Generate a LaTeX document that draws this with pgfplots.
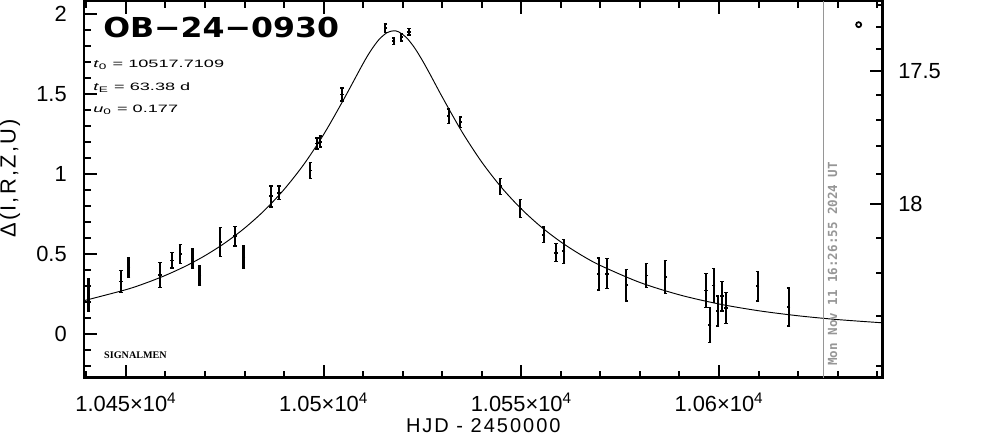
\documentclass[border=0pt]{standalone}
\usepackage{fontspec}
\setmainfont{Liberation Sans}
\newfontfamily\labfont[LetterSpace=10]{Liberation Sans}
\newfontfamily\titlefont{DejaVu Sans}
\newfontfamily\datefont{DejaVu Sans Mono}
\newfontfamily\smallserif{Liberation Serif}
\usepackage{pgfplots}
\usepackage{pgfplotstable}
\pgfplotsset{compat=1.18}
\definecolor{stampgray}{RGB}{150,150,150}

% observed points: HJD-2450000, Delta, error
\pgfplotstableread{
t d e
10440.54 0.242 0.100
10448.74 0.326 0.070
10450.66 0.413 0.062
10458.68 0.366 0.078
10461.64 0.458 0.049
10463.74 0.498 0.060
10466.85 0.470 0.061
10468.62 0.365 0.062
10473.86 0.572 0.090
10477.65 0.609 0.062
10479.75 0.480 0.072
10486.68 0.858 0.066
10488.70 0.881 0.042
10496.62 1.020 0.049
10498.32 1.188 0.034
10499.15 1.200 0.034
10504.64 1.495 0.040
10515.60 1.908 0.026
10517.70 1.827 0.021
10519.64 1.852 0.024
10521.62 1.886 0.021
10531.61 1.358 0.045
10534.57 1.321 0.033
10544.69 0.921 0.050
10549.75 0.783 0.057
10555.64 0.618 0.049
10558.78 0.506 0.056
10560.70 0.515 0.075
10569.55 0.374 0.100
10571.68 0.375 0.094
10576.56 0.303 0.099
10581.62 0.363 0.075
10586.43 0.354 0.104
10596.72 0.269 0.106
10597.63 0.053 0.109
10598.65 0.301 0.107
10599.66 0.142 0.094
10600.77 0.234 0.092
10601.78 0.159 0.097
10609.78 0.296 0.092
10617.62 0.166 0.118
}\obsdata

% model curve
\pgfplotstableread{
t d
10439.4 0.2062
10450 0.2749
10455 0.3161
10460 0.3644
10465 0.4209
10470 0.4875
10475 0.5661
10480 0.6591
10485 0.7695
10490 0.9011
10495 1.0580
10500 1.2443
10505 1.4603
10510 1.6885
10512 1.7709
10514 1.8377
10516 1.8805
10517.71 1.8927
10519 1.8857
10521 1.8490
10523 1.7865
10525 1.7067
10527 1.6177
10530 1.4795
10535 1.2614
10540 1.0724
10545 0.9132
10550 0.7797
10555 0.6676
10560 0.5733
10565 0.4936
10570 0.4261
10580 0.3199
10590 0.2425
10600 0.1855
10610 0.1433
10620 0.1118
10630 0.0880
10641.4 0.0677
}\modeldata

\begin{document}
\begin{tikzpicture}
\begin{axis}[
  scale only axis, width=599pt, height=282.5pt,
  xmin=10439.4, xmax=10641.4, ymin=-0.275, ymax=2.079,
  axis line style={line width=2pt},
  tick align=inside,
  major tick length=9.75pt, minor tick length=5.25pt,
  tick style={black, line width=1.5pt},
  xtick={10450,10500,10550,10600},
  xticklabels={1.045×10\textsuperscript{4},1.05×10\textsuperscript{4},1.055×10\textsuperscript{4},1.06×10\textsuperscript{4}},
  minor xtick={10440,10450,...,10640},
  xtick pos=both, ytick pos=left,
  ytick={0,0.5,1,1.5,2}, yticklabels={0,0.5,1,1.5,2},
  minor ytick={-0.2,-0.1,...,2.05},
  tick label style={font=\fontsize{16.4}{19}\selectfont, inner sep=0pt},
  xticklabel style={anchor=center, yshift=-18.5pt},
  yticklabel style={anchor=east, xshift=-12.75pt},
  xlabel={HJD - 2450000},
  xlabel style={at={(axis description cs:0.5,-0.1265)}, anchor=center, inner sep=0pt,
    font=\labfont\fontsize{15}{17}\selectfont},
  ylabel={Δ(I,R,Z,U)},
  ylabel style={at={(axis description cs:-0.0927,0.5288)}, anchor=center, inner sep=0pt,
    font=\labfont\fontsize{16.4}{19}\selectfont},
]
\addplot[black, line width=0.7pt, smooth] table[x=t, y=d] {\modeldata};
\addplot[stampgray, line width=0.9pt] coordinates {(10626.46,-0.275) (10626.46,2.079)};
\addplot[black, only marks, mark=-, mark size=1.3pt, mark options={line width=1.3pt},
  error bars/.cd, y dir=both, y explicit,
  error bar style={line width=1.6pt},
  error mark options={rotate=90, mark size=1.3pt, line width=1.1pt}]
  table[x=t, y=d, y error=e] {\obsdata};
\addplot[black, only marks, mark=o, mark size=1.9pt, mark options={line width=1.3pt}]
  coordinates {(10635.33,1.931)};

\node[anchor=base west, inner sep=0pt] at (axis description cs:0.0238,0.9018)
  {\scalebox{1.15}[1]{\titlefont\bfseries\fontsize{20.6}{24}\selectfont OB−24−0930}};
\node[anchor=base west, inner sep=0pt] at (axis description cs:0.0113,0.8229)
  {\scalebox{1.7}[1]{\fontsize{8}{9}\selectfont\textit{t}\textsubscript{0} = 10517.7109}};
\node[anchor=base west, inner sep=0pt] at (axis description cs:0.0113,0.7611)
  {\scalebox{1.7}[1]{\fontsize{8}{9}\selectfont\textit{t}\textsubscript{E} = 63.38 d}};
\node[anchor=base west, inner sep=0pt] at (axis description cs:0.0113,0.7035)
  {\scalebox{1.7}[1]{\fontsize{8}{9}\selectfont\textit{u}\textsubscript{0} = 0.177}};
\node[anchor=base west, inner sep=0pt] at (axis description cs:0.025,0.0515)
  {\smallserif\bfseries\fontsize{7.6}{9}\selectfont SIGNALMEN};
\node[rotate=90, anchor=base west, inner sep=0pt, text=stampgray] at (axis cs:10629.86,-0.202)
  {\datefont\bfseries\fontsize{9.4}{11}\selectfont Mon Nov 11 16:26:55 2024 UT};
\node[rotate=90, anchor=center, inner sep=0pt] at (axis description cs:1.1193,0.5102)
  {\fontsize{16.4}{19}\selectfont OGLE \textit{I}};

\coordinate (sw) at (rel axis cs:0,0);
\coordinate (ne) at (rel axis cs:1,1);
\end{axis}

% right-hand magnitude scale
\begin{axis}[
  scale only axis, width=599pt, height=282.5pt,
  xmin=10439.4, xmax=10641.4, ymin=-0.275, ymax=2.079,
  axis line style={draw=none},
  xtick=\empty,
  tick align=inside,
  major tick length=9.75pt, minor tick length=5.25pt,
  tick style={black, line width=1.5pt},
  ytick pos=right, yticklabel pos=right,
  ytick={0.809,1.642}, yticklabels={18,17.5},
  minor ytick={-0.202,0.111,0.3775,0.600,0.996,1.173,1.336,1.490,1.7775,1.919,2.054},
  yticklabel style={font=\fontsize{16.4}{19}\selectfont, anchor=west, inner sep=0pt, xshift=11.5pt},
]
\end{axis}

\pgfresetboundingbox
\useasboundingbox ([xshift=-63pt, yshift=-42.2pt]sw) rectangle ([xshift=77.5pt, yshift=0.75pt]ne);
\end{tikzpicture}
\end{document}
